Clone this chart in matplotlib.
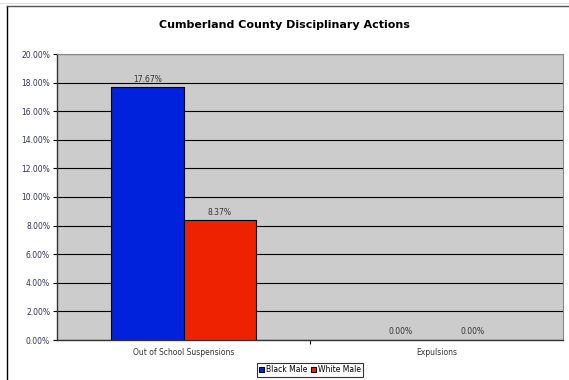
import matplotlib.pyplot as plt
import numpy as np
from matplotlib.lines import Line2D

categories = ["Out of School Suspensions", "Expulsions"]
series_names = ["Black Male", "White Male"]
black_male = [0.1767, 0.0]
white_male = [0.0837, 0.0]
y_ticks = np.arange(0, 0.2001, 0.02)

W, H = 569, 380
fig = plt.figure(figsize=(W / 100, H / 100), dpi=100)
fig.patch.set_facecolor("white")

# chart frame (spreadsheet style)
fig.add_artist(Line2D([7 / W, 7 / W], [0, 1 - 6 / H], color="black", lw=1.0))
fig.add_artist(Line2D([7 / W, 1], [1 - 6 / H, 1 - 6 / H], color="#555555", lw=1.0))
fig.add_artist(Line2D([0, 1], [1 - 3 / H, 1 - 3 / H], color="#dddddd", lw=0.8))

ax = fig.add_axes([57 / W, 1 - 340 / H, (563 - 57) / W, (340 - 54) / H])
ax.set_facecolor("#cccccc")

x = np.arange(len(categories))
width = 1 / 3.5
b1 = ax.bar(x - width / 2, black_male, width, color="#0022dd", edgecolor="black", linewidth=0.8, label=series_names[0], zorder=3)
b2 = ax.bar(x + width / 2, white_male, width, color="#ee2200", edgecolor="black", linewidth=0.8, label=series_names[1], zorder=3)

for bars in (b1, b2):
    for rect in bars:
        v = rect.get_height()
        if v == 0:
            rect.set_linewidth(0)
        ax.text(rect.get_x() + rect.get_width() / 2, v + 0.0025, f"{v * 100:.2f}%",
                ha="center", va="bottom", fontsize=5.5, color="#333333")

ax.set_xlim(-0.5, 1.5)
ax.set_ylim(0, 0.20)
ax.set_yticks(y_ticks)
ax.set_yticklabels([f"{t * 100:.2f}%" for t in y_ticks], fontsize=5.5, color="#333355")
ax.yaxis.grid(True, color="black", lw=0.8, zorder=1)
ax.set_xticks(x)
ax.set_xticklabels(categories, fontsize=5.5, color="#333333")
ax.tick_params(axis="x", length=0, pad=6)
ax.tick_params(axis="y", length=3, width=0.8, pad=2)
ax.set_xticks([0.5], minor=True)
ax.tick_params(axis="x", which="minor", length=3, width=0.8)

for side in ("left", "bottom"):
    ax.spines[side].set_color("#333333")
    ax.spines[side].set_linewidth(1.0)
ax.spines["top"].set_color("#888888")
ax.spines["right"].set_color("#888888")

fig.text(0.5, 1 - 25 / H, "Cumberland County Disciplinary Actions", ha="center", va="center",
         fontsize=8, fontweight="bold", color="black")

leg = fig.legend(handles=[b1, b2], labels=series_names, loc="center", bbox_to_anchor=(310 / W, 1 - 370 / H),
                 ncol=2, fontsize=5.5, frameon=True, fancybox=False, edgecolor="black",
                 handlelength=0.6, handleheight=0.6, handletextpad=0.3, columnspacing=0.5,
                 borderpad=0.3, borderaxespad=0)
leg.get_frame().set_linewidth(0.8)

fig.savefig("out.png", dpi=100)
